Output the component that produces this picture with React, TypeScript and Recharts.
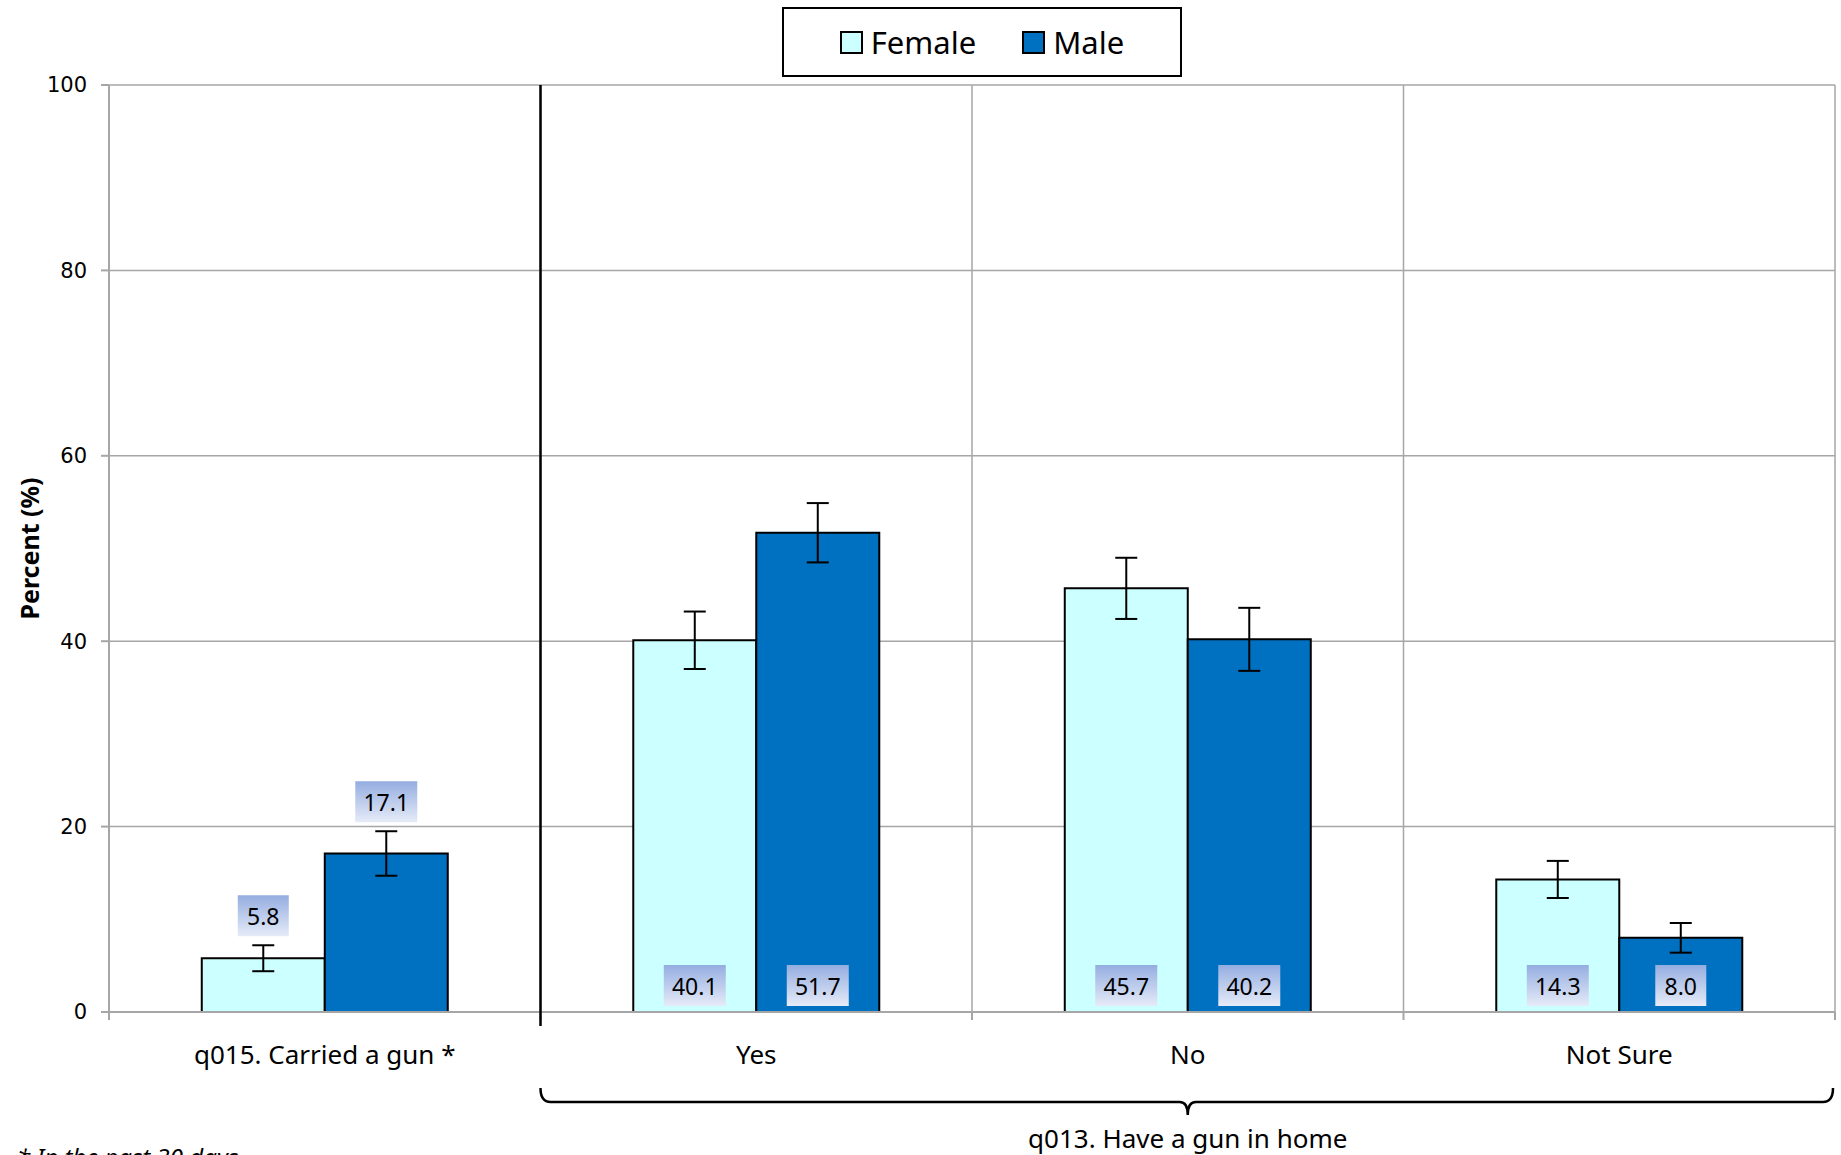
import React from 'react';
import { BarChart, Bar, XAxis, YAxis, CartesianGrid, ErrorBar, LabelList } from 'recharts';

const categories = ['q015. Carried a gun *', 'Yes', 'No', 'Not Sure'];
const femaleValues = [5.8, 40.1, 45.7, 14.3];
const maleValues = [17.1, 51.7, 40.2, 8.0];
const femaleErrors = [1.4, 3.1, 3.3, 2.0];
const maleErrors = [2.4, 3.2, 3.4, 1.6];
const yTicks = [0, 20, 40, 60, 80, 100];

const data = categories.map((name, i) => ({
  name,
  female: femaleValues[i],
  male: maleValues[i],
  femaleErr: femaleErrors[i],
  maleErr: maleErrors[i],
}));

// layout
const W = 1841;
const H = 1155;
const PLOT_LEFT = 109;
const PLOT_RIGHT = 1835;
const PLOT_TOP = 85;
const PLOT_BOTTOM = 1012;
const Y_AXIS_W = 60;
const X_AXIS_H = 60;
const BAND = (PLOT_RIGHT - PLOT_LEFT) / categories.length;

const FONT = '"Noto Sans", sans-serif';
const GRID = '#a6a6a6';

const makeLabel = (values: number[], errors: number[]) => (props: any) => {
  const vb = props.viewBox || props;
  const x = vb.x ?? props.x;
  const y = vb.y ?? props.y;
  const width = vb.width ?? props.width;
  const height = vb.height ?? props.height;
  const value = Number(props.value);
  const index = props.index ?? values.indexOf(value);
  const text = value.toFixed(1);
  const boxW = text.length * 11 + 18;
  const boxH = 41;
  let bottom;
  if (index === 0) {
    const pxPerUnit = height / value;
    bottom = y - errors[index] * pxPerUnit - 9;
  } else {
    bottom = y + height - 6;
  }
  const cx = x + width / 2;
  return (
    <g>
      <rect x={cx - boxW / 2} y={bottom - boxH} width={boxW} height={boxH} fill="url(#lblGrad)" />
      <text x={cx} y={bottom - boxH / 2} textAnchor="middle" dominantBaseline="central"
        fontFamily={FONT} fontSize={23} fill="#000">{text}</text>
    </g>
  );
};

const CategoryTick = (props: any) => {
  const { x, y, payload, index } = props;
  const left = x - BAND / 2;
  const right = x + BAND / 2;
  return (
    <g>
      <line x1={left} x2={left} y1={y} y2={y + 8} stroke={GRID} strokeWidth={2} />
      {index === categories.length - 1 && (
        <line x1={right} x2={right} y1={y} y2={y + 8} stroke={GRID} strokeWidth={2} />
      )}
      <text x={x} y={y + 42} textAnchor="middle" dominantBaseline="central"
        fontFamily={FONT} fontSize={26} fill="#000">{payload.value}</text>
    </g>
  );
};

const LegendBox = () => (
  <div style={{
    position: 'absolute', left: 782, top: 7, width: 396, height: 66,
    border: '2px solid #000', background: '#fff', display: 'flex',
    alignItems: 'center', justifyContent: 'center', gap: 46, fontFamily: FONT, fontSize: 31,
  }}>
    {[['Female', '#CCFFFF'], ['Male', '#0070C0']].map(([name, color]) => (
      <div key={name} style={{ display: 'flex', alignItems: 'center', gap: 8 }}>
        <span style={{ width: 19, height: 19, background: color, border: '2px solid #000', display: 'inline-block' }} />
        <span>{name}</span>
      </div>
    ))}
  </div>
);

export default function App() {
  const sepX = PLOT_LEFT + BAND;
  const midX = PLOT_LEFT + BAND * 2.5;
  const midY = (PLOT_TOP + PLOT_BOTTOM) / 2;
  return (
    <div style={{ position: 'absolute', left: 0, top: 0, width: W, height: H, overflow: 'hidden', background: '#fff' }}>
      <BarChart
        width={W}
        height={H}
        data={data}
        margin={{ top: PLOT_TOP, right: W - PLOT_RIGHT, left: PLOT_LEFT - Y_AXIS_W, bottom: H - PLOT_BOTTOM - X_AXIS_H }}
        barCategoryGap="21.5%"
        barGap={0}
      >
        <defs>
          <linearGradient id="lblGrad" x1="0" y1="0" x2="0" y2="1">
            <stop offset="0%" stopColor="#94ade0" />
            <stop offset="100%" stopColor="#e6ebf8" />
          </linearGradient>
        </defs>
        <CartesianGrid
          stroke={GRID}
          strokeWidth={1.5}
          verticalCoordinatesGenerator={({ offset }: any) =>
            categories.map((_, i) => offset.left + (i + 1) * (offset.width / categories.length))
          }
        />
        <XAxis
          dataKey="name"
          height={X_AXIS_H}
          tickLine={false}
          tickSize={0}
          tickMargin={0}
          axisLine={{ stroke: GRID, strokeWidth: 2 }}
          tick={<CategoryTick />}
          interval={0}
        />
        <YAxis
          width={Y_AXIS_W}
          domain={[0, 100]}
          ticks={yTicks}
          tickSize={8}
          tickMargin={14}
          axisLine={{ stroke: GRID, strokeWidth: 2 }}
          tickLine={{ stroke: GRID, strokeWidth: 2 }}
          tick={{ fontFamily: '"DejaVu Sans", sans-serif', fontSize: 21, fill: '#000' }}
        />
        <Bar dataKey="female" fill="#CCFFFF" stroke="#000" strokeWidth={2} isAnimationActive={false}>
          <ErrorBar dataKey="femaleErr" width={11} stroke="#000" strokeWidth={2} />
          <LabelList dataKey="female" content={makeLabel(femaleValues, femaleErrors)} />
        </Bar>
        <Bar dataKey="male" fill="#0070C0" stroke="#000" strokeWidth={2} isAnimationActive={false}>
          <ErrorBar dataKey="maleErr" width={11} stroke="#000" strokeWidth={2} />
          <LabelList dataKey="male" content={makeLabel(maleValues, maleErrors)} />
        </Bar>
      </BarChart>

      <svg width={W} height={H} style={{ position: 'absolute', left: 0, top: 0, pointerEvents: 'none' }}>
        <line x1={sepX} x2={sepX} y1={PLOT_TOP} y2={PLOT_BOTTOM + 14} stroke="#000" strokeWidth={2.5} />
        <path
          d={`M${sepX},1088 Q${sepX},1102 ${sepX + 10},1102 L${midX - 8},1102 Q${midX},1102 ${midX},1115 Q${midX},1102 ${midX + 8},1102 L${PLOT_RIGHT - 12},1102 Q${PLOT_RIGHT - 2},1102 ${PLOT_RIGHT - 2},1088`}
          fill="none" stroke="#000" strokeWidth={2.5}
        />
        <text x={midX} y={1138} textAnchor="middle" dominantBaseline="central" fontFamily={FONT} fontSize={26} fill="#000">
          q013. Have a gun in home
        </text>
        <text x={29} y={midY} transform={`rotate(-90 29 ${midY})`}
          textAnchor="middle" dominantBaseline="central" fontFamily={FONT} fontWeight="bold" fontSize={25} fill="#000">
          Percent (%)
        </text>
        <text x={17} y={1166} fontFamily={FONT} fontStyle="italic" fontSize={24} fill="#000">
          * In the past 30 days
        </text>
      </svg>
      <LegendBox />
    </div>
  );
}
